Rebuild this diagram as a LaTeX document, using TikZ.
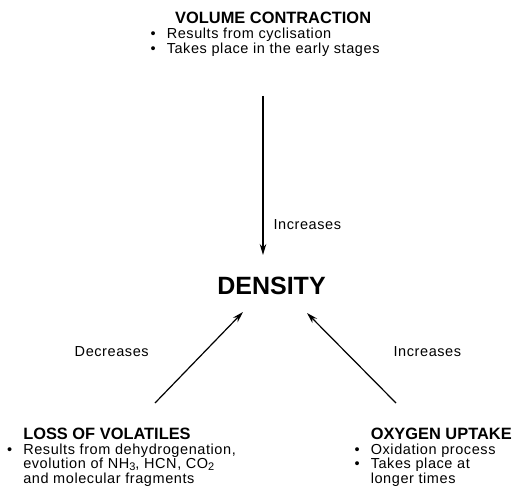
\documentclass[tikz,border=0pt]{standalone}
\usepackage{fontspec}
\setmainfont{Liberation Sans}
\newfontfamily\bodyfont[LetterSpace=4]{Liberation Sans}
\usetikzlibrary{arrows.meta, positioning, calc}

\newcommand{\blockhead}[1]{{\normalfont\fontsize{16.4}{16}\selectfont\bfseries #1}}
\newcommand{\lowered}[1]{\raisebox{-2pt}{\fontsize{11}{11}\selectfont #1}}

\begin{document}
\begin{tikzpicture}[x=1pt, y=1pt,
        block/.style={inner sep=0pt, align=left, font=\bodyfont\fontsize{14.5}{14.5}\selectfont},
        lbl/.style={inner sep=0pt, font=\bodyfont\fontsize{14.5}{14}\selectfont},
        arrow/.style={-{Stealth[length=11pt, width=6.5pt]}, line width=1.2pt}
    ]
    \useasboundingbox (-271.5,-214) rectangle (244.5,286);

    % Centre
    \node[inner sep=0pt, font=\fontsize{25}{25}\selectfont\bfseries] (density) at (0,0) {DENSITY};

    % --- Top block ---
    \node[block, anchor=north west] (contraction) at (-121,274) {%
        \begin{tabular}{@{}l@{\hspace{11pt}}l@{}}
            & \multicolumn{1}{c}{\blockhead{VOLUME CONTRACTION}}\\
            \textbullet & Results from cyclisation\\
            \textbullet & Takes place in the early stages
        \end{tabular}};

    % --- Bottom blocks ---
    \node[block, anchor=north west] (volatiles) at (-264.5,-141.5) {%
        \begin{tabular}{@{}l@{\hspace{11pt}}l@{}}
            & \blockhead{LOSS OF VOLATILES}\\
            \textbullet & Results from dehydrogenation,\\
            & evolution of NH\lowered{3}, HCN, CO\lowered{2}\\
            & and molecular fragments
        \end{tabular}};

    \node[block, anchor=north west] (oxygen) at (83,-141.5) {%
        \begin{tabular}{@{}l@{\hspace{11pt}}l@{}}
            & \blockhead{OXYGEN UPTAKE}\\
            \textbullet & Oxidation process\\
            \textbullet & Takes place at\\
            & longer times
        \end{tabular}};

    % --- Arrow ends ---
    \coordinate (top-tail) at (-8.5,190);
    \coordinate (top-head) at (-8.5,31);
    \coordinate (left-tail) at (-116.5,-117);
    \coordinate (left-head) at (-28.5,-26);
    \coordinate (right-tail) at (124.5,-117);
    \coordinate (right-head) at (35.5,-27);

    % --- Arrows ---
    \draw [arrow] (top-tail) -- (top-head)
    node[pos=0.81, right=10pt, lbl] {Increases};

    \draw [arrow] (left-tail) -- (left-head)
    node[pos=0.56, left=55pt, lbl] {Decreases};

    \draw [arrow] (right-tail) -- (right-head)
    node[pos=0.567, right=47.5pt, lbl] {Increases};

\end{tikzpicture}
\end{document}
